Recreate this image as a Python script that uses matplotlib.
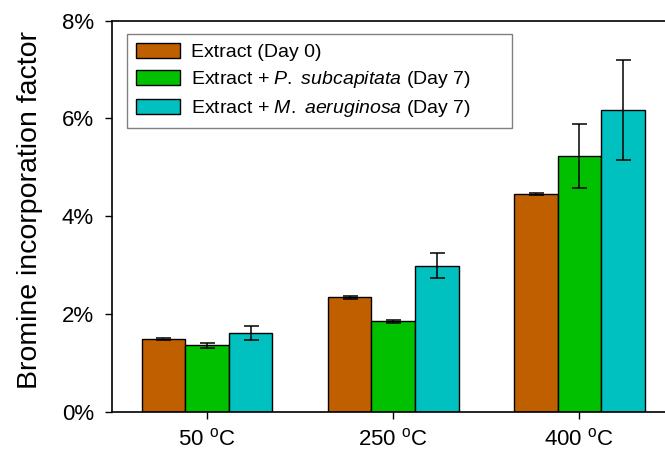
import numpy as np
import matplotlib.pyplot as plt

plt.rcParams['font.family'] = ['Liberation Sans', 'DejaVu Sans']
plt.rcParams['mathtext.fontset'] = 'custom'
plt.rcParams['mathtext.rm'] = 'Liberation Sans'
plt.rcParams['mathtext.it'] = 'Liberation Sans:italic'

# temperatures and measured incorporation (%) with error bars
temps = ['50 $^\\mathregular{o}$C', '250 $^\\mathregular{o}$C', '400 $^\\mathregular{o}$C']
day0 = [1.49, 2.34, 4.45]
day0_err = [0.02, 0.04, 0.02]
psub = [1.36, 1.85, 5.23]
psub_err = [0.06, 0.04, 0.65]
maer = [1.62, 2.99, 6.17]
maer_err = [0.14, 0.26, 1.02]

labels = ['Extract (Day 0)',
          'Extract + $\\mathit{P.}$ $\\mathit{subcapitata}$ (Day 7)',
          'Extract + $\\mathit{M.}$ $\\mathit{aeruginosa}$ (Day 7)']
colors = ['#C05F00', '#00C000', '#00C0C0']

fig = plt.figure(figsize=(6.65, 4.54), dpi=100)
ax = fig.add_axes([0.1684, 0.0925, 0.84, 0.8623])

x = np.arange(len(temps))
w = 0.234
series = [(day0, day0_err), (psub, psub_err), (maer, maer_err)]
for i, (vals, errs) in enumerate(series):
    ax.bar(x + (i - 1) * w, vals, w, color=colors[i], edgecolor='black',
           linewidth=1.0, label=labels[i], zorder=2)
    ax.errorbar(x + (i - 1) * w, vals, yerr=errs, fmt='none', ecolor='black',
                elinewidth=1.1, capsize=5.4, capthick=1.1, zorder=3)

ax.set_xlim(-0.51, 2.49)
ax.set_ylim(0, 8)
ax.set_xticks(x)
ax.set_xticklabels(temps, fontsize=16)
ax.set_yticks([0, 2, 4, 6, 8])
ax.set_yticklabels([f'{v}%' for v in [0, 2, 4, 6, 8]], fontsize=16)
ax.set_ylabel('Bromine incorporation factor', fontsize=20.5)
ax.yaxis.set_label_coords(-0.124, 0.516)
ax.tick_params(axis='both', direction='out', length=5, width=1.0, colors='black')
ax.tick_params(axis='x', pad=6.5)
ax.tick_params(axis='y', pad=8)

for s in ['left', 'bottom', 'top']:
    ax.spines[s].set_linewidth(1.2)
ax.spines['right'].set_visible(False)

leg = ax.legend(loc='upper left',
                bbox_to_anchor=(127 / 665, 1 - 128 / 454, 385 / 665, 94 / 454),
                bbox_transform=fig.transFigure, mode='expand', fontsize=14,
                frameon=True, fancybox=False, edgecolor='gray', framealpha=1,
                handlelength=2.3, handleheight=0.8, handletextpad=0.55,
                labelspacing=0.42, borderpad=0.45, borderaxespad=0)
leg.get_frame().set_linewidth(1.0)

fig.savefig('out.png', dpi=100)
